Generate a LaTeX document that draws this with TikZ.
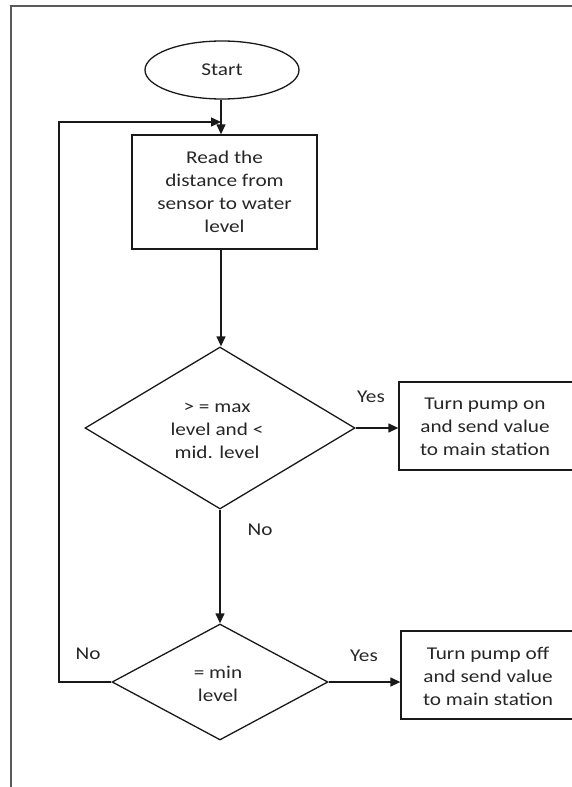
\documentclass[tikz,border=0pt]{standalone}
\usepackage{fontspec}
\setmainfont[FakeStretch=1.18]{Carlito}
\usetikzlibrary{shapes.geometric,arrows.meta}
\begin{document}
\begin{tikzpicture}[x=1pt,y=-1pt,
  every node/.style={font=\fontsize{18}{23}\selectfont, text=black!85},
  conn/.style={line width=1.3pt, draw=black!90},
  arr/.style={conn, -{Triangle[length=10pt,width=9pt]}},
  procbox/.style={draw=black!90, line width=1.3pt, rectangle, inner sep=0pt},
  dia/.style={draw=black!90, line width=1.3pt, diamond, inner sep=0pt},
  txt/.style={align=center, inner sep=0pt},
  lbl/.style={inner sep=0pt}]
\useasboundingbox (0,0) rectangle (572,787);
\clip (0,0) rectangle (572,787);
% frame
\draw[line width=1.6pt, draw=black!65] (11,800) -- (11,6) -- (600,6);
% nodes
\node[ellipse, draw=black!90, line width=1.3pt, minimum width=154pt, minimum height=58pt, inner sep=0pt] (start) at (222,70) {Start};
\node[procbox, minimum width=185pt, minimum height=114pt] (read) at (224.5,192) {};
\node[txt] (readt) at (224.5,192) {Read the\\distance from\\sensor to water\\level};
\node[dia, minimum width=270pt, minimum height=162pt] (d1) at (220,428) {};
\node[txt] (d1t) at (217,431) {> = max\\level and <\\mid. level};
\node[dia, minimum width=216pt, minimum height=116pt] (d2) at (220,682) {};
\node[txt] (d2t) at (218,684) {= min\\level};
\node[procbox, minimum width=176pt, minimum height=88pt] (on) at (487,426) {};
\node[txt] (ont) at (485,427) {Turn pump on\\and send value\\to main station};
\node[procbox, minimum width=176pt, minimum height=88pt] (off) at (489,675) {};
\node[txt] (offt) at (488,676) {Turn pump off\\and send value\\to main station};
% labels
\node[lbl] (y1) at (371,397) {Yes};
\node[lbl] (n1) at (260,530) {No};
\node[lbl] (n2) at (88,654) {No};
\node[lbl] (y2) at (364,656) {Yes};
% connectors
\coordinate (j) at (221,122);
\coordinate (lx) at (59,0);
\draw[arr] (start.south -| j) -- (j |- read.north);
\draw[arr] (j |- read.south) -- (j |- d1.north);
\draw[arr] (d1.south) -- (d2.north);
\draw[arr] (d1.east) -- (d1.east -| on.west);
\draw[arr] (d2.east) -- (d2.east -| off.west);
\draw[arr] (d2.west) -| (lx |- j) -- (j);
\end{tikzpicture}
\end{document}
